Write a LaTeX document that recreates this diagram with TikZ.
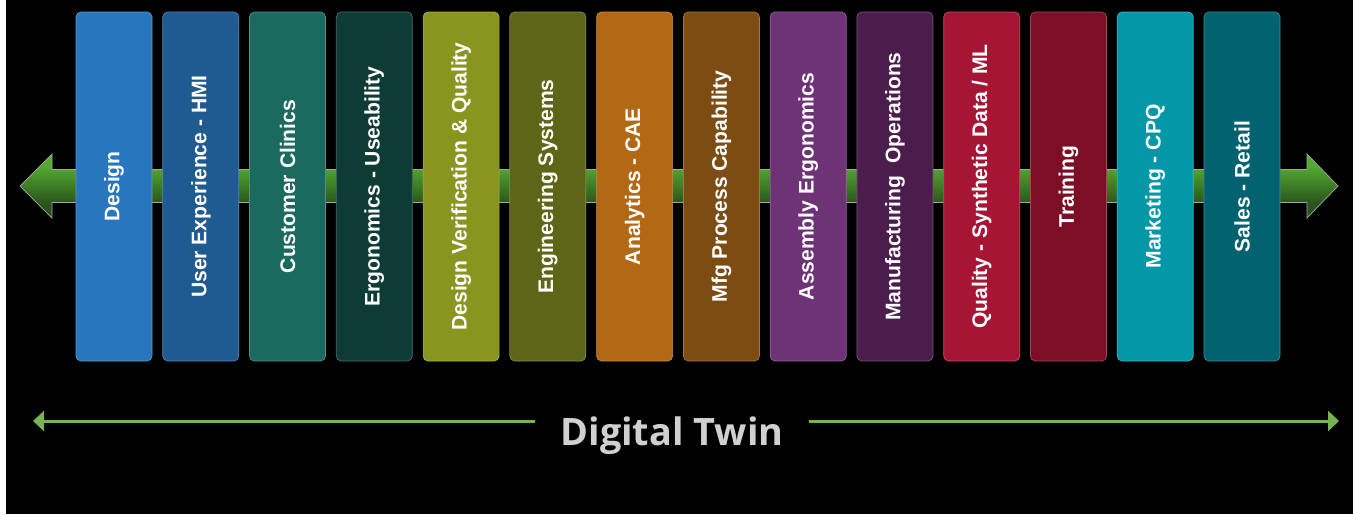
\documentclass[tikz,border=0pt]{standalone}
\usepackage{fontspec}
\setmainfont{Liberation Sans}
\newfontfamily\twinfont{Open Sans}
\usetikzlibrary{positioning, calc, arrows.meta}

\definecolor{cDesign}{HTML}{2776BE}
\definecolor{cUX}{HTML}{1F5A90}
\definecolor{cClinic}{HTML}{1A6A60}
\definecolor{cErgo}{HTML}{0D3B36}
\definecolor{cVerif}{HTML}{8A951F}
\definecolor{cEngSys}{HTML}{5D6517}
\definecolor{cCAE}{HTML}{B26814}
\definecolor{cMfg}{HTML}{7C4C12}
\definecolor{cAssy}{HTML}{6E3276}
\definecolor{cOps}{HTML}{4A1D4C}
\definecolor{cQual}{HTML}{A71535}
\definecolor{cTrain}{HTML}{7C0E26}
\definecolor{cMkt}{HTML}{0397A8}
\definecolor{cSales}{HTML}{03626F}
\definecolor{bandtop}{HTML}{54AA30}
\definecolor{bandbot}{HTML}{2A531B}
\definecolor{twingreen}{HTML}{77B255}
\definecolor{twingray}{HTML}{D0D0D0}

\pgfdeclareverticalshading{bandshade}{100bp}{color(0bp)=(bandbot); color(36bp)=(bandbot); color(66bp)=(bandtop); color(100bp)=(bandtop)}

\tikzset{
  stage/.style={draw=#1!75!white, fill=#1, line width=0.4pt, rounded corners=0.1cm,
    rotate=90, minimum width=6.98cm, minimum height=1.52cm, inner sep=0pt,
    text=white, font=\fontsize{12}{14}\selectfont\bfseries},
  twin/.style={draw=twingreen, line width=1.7pt, -{Triangle[length=0.22cm, width=0.4cm]}},
}

\begin{document}
\begin{tikzpicture}[x=0.2mm, y=-0.2mm]
			\useasboundingbox (0,0) rectangle (1353,514);
			\fill[white] (0,0) rectangle (6,514);
			\fill[black] (6,0) rectangle (1353,514);

			% green band behind the stages
			\draw[shading=bandshade, draw=gray!70, line width=0.4pt] (20,186) -- (52,154) -- (52,169.5) -- (1307,169.5) -- (1307,154) -- (1338,186) -- (1307,218) -- (1307,202.5) -- (52,202.5) -- (52,218) -- cycle;

			\node (n1) [stage=cDesign] at (114,186.5) {Design};
			\node (n2) [stage=cUX] at (200.8,186.5) {User Experience - HMI};
			\node (n3) [stage=cClinic] at (287.5,186.5) {Customer Clinics};
			\node (n4) [stage=cErgo] at (374.3,186.5) {Ergonomics - Useability};
			\node (n5) [stage=cVerif] at (461.1,186.5) {Design Verification \& Quality};
			\node (n6) [stage=cEngSys] at (547.8,186.5) {Engineering Systems};
			\node (n7) [stage=cCAE] at (634.6,186.5) {Analytics - CAE};
			\node (n8) [stage=cMfg] at (721.4,186.5) {Mfg Process Capability};
			\node (n9) [stage=cAssy] at (808.2,186.5) {Assembly Ergonomics};
			\node (n10) [stage=cOps] at (894.9,186.5) {Manufacturing\ \ Operations};
			\node (n11) [stage=cQual] at (981.7,186.5) {Quality - Synthetic Data / ML};
			\node (n12) [stage=cTrain] at (1068.5,186.5) {Training};
			\node (n13) [stage=cMkt] at (1155.2,186.5) {Marketing - CPQ};
			\node (n14) [stage=cSales] at (1242,186.5) {Sales - Retail};

			% digital twin span
			\coordinate (lend) at (33,421);
			\coordinate (rend) at (1339,421);
			\node (dt) [anchor=base, inner xsep=0.5cm, text=twingray, font=\twinfont\fontsize{21.5}{24}\selectfont\bfseries] at (672,445) {Digital Twin};
			\draw [twin] (dt.west |- lend) -- (lend);
			\draw [twin] (dt.east |- rend) -- (rend);
		\end{tikzpicture}
\end{document}
